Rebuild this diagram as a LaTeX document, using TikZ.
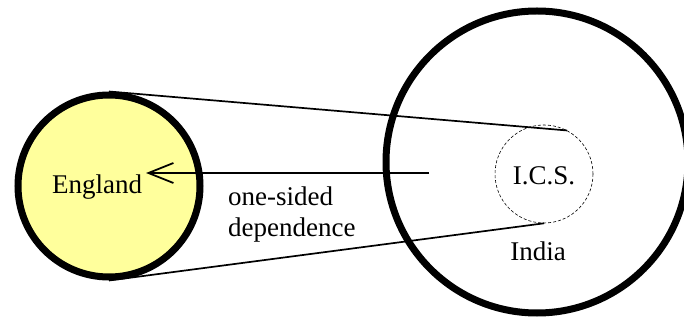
\documentclass[tikz,border=0pt]{standalone}
\usepackage{fontspec}
\setmainfont{Liberation Serif}
\usepackage{tikz}
\usetikzlibrary{arrows.meta,positioning}
\definecolor{englandyellow}{HTML}{FFFF9C}

\begin{document}
\begin{tikzpicture}[x=1pt,y=-1pt,>={Straight Barb[length=25pt,width=20pt]},
  country/.style={circle,draw,inner sep=0pt,minimum size=#1},
  lbl/.style={font=\fontsize{27}{31}\selectfont,inner sep=0pt}]
  \useasboundingbox (0,0) rectangle (684,320);
  \begin{scope}
    \clip (0,0) rectangle (684,320);
    \node[country=182pt,line width=7pt,fill=englandyellow] (eng) at (109,186) {};
    \node[country=302pt,line width=7pt] (india) at (537,162) {};
  \end{scope}
  \node[country=98pt,line width=0.6pt,densely dashed] (ics) at (544,174) {};
  \node[lbl] (englbl) at (97,187) {England};
  \node[lbl] (icslbl) at (544,176) {I.C.S.};
  \node[lbl] (indialbl) at (538,251) {India};
  \node[lbl,align=left,anchor=north west] (dep) at (228,187) {one-sided\\dependence};
  % tangents from England onto the I.C.S.
  \draw[line width=1.7pt] (eng.north) -- (ics.62);
  \draw[line width=1.7pt] (eng.south) -- (ics.south);
  \coordinate (from) at (429,173);
  \coordinate (to) at (146,173);
  \draw[->,line width=1.8pt] (from) -- (to);
\end{tikzpicture}
\end{document}
